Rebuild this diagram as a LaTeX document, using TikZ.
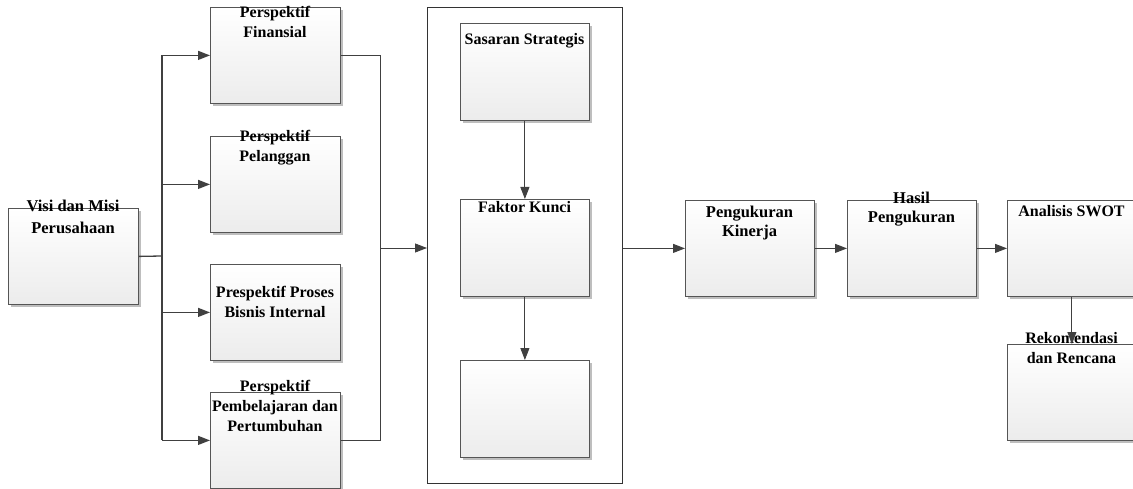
\documentclass[tikz,border=0pt]{standalone}
\usepackage{fontspec}
\setmainfont{Liberation Serif}
\usetikzlibrary{arrows.meta,shadows}
\definecolor{lnc}{HTML}{404040}
\definecolor{bdc}{HTML}{555555}
\definecolor{boxbot}{HTML}{ECECEC}
\definecolor{shd}{HTML}{BEBEBE}
\begin{document}
\begin{tikzpicture}[x=1pt,y=-1pt,
  box/.style={draw=bdc, line width=0.8pt, top color=white, bottom color=boxbot,
    drop shadow={shadow xshift=3pt,shadow yshift=-3pt,fill=shd,opacity=1},
    anchor=north west, inner sep=0pt},
  frame/.style={draw=black!80, line width=0.8pt, fill=white, anchor=north west, inner sep=0pt},
  lbl/.style={anchor=base, inner sep=0pt, align=center, font=\bfseries\fontsize{16}{20}\selectfont},
  thick line/.style={draw=lnc, line width=1.3pt},
  thin line/.style={draw=lnc, line width=0.9pt},
  arr/.style={thin line, -{Triangle[length=12pt,width=9pt]}},
  arrb/.style={thick line, -{Triangle[length=12pt,width=9pt]}}]
\useasboundingbox (0,0) rectangle (1133,489);
% frame
\node[frame, minimum width=195pt, minimum height=476pt] (big) at (427,7) {};
% boxes
\node[box, minimum width=130pt, minimum height=96pt] (visi) at (8,208) {};
\node[box, minimum width=130pt, minimum height=96pt] (p1) at (210,7) {};
\node[box, minimum width=130pt, minimum height=96pt] (p2) at (210,136) {};
\node[box, minimum width=130pt, minimum height=96pt] (p3) at (210,264) {};
\node[box, minimum width=130pt, minimum height=96pt] (p4) at (210,392) {};
\node[box, minimum width=129pt, minimum height=97pt] (ss) at (460,23) {};
\node[box, minimum width=129pt, minimum height=97pt] (fk) at (460,199) {};
\node[box, minimum width=129pt, minimum height=97pt] (f3) at (460,360) {};
\node[box, minimum width=129pt, minimum height=96pt] (pk) at (685,200) {};
\node[box, minimum width=129pt, minimum height=96pt] (hp) at (847,200) {};
\node[box, minimum width=129pt, minimum height=96pt] (sw) at (1007,200) {};
\node[box, minimum width=129pt, minimum height=96pt] (rk) at (1007,344) {};
% labels (anchor = baseline of the last line)
\node[lbl, font=\bfseries\fontsize{16.5}{22}\selectfont] (tvisi) at (73,234) {Visi dan Misi\\Perusahaan};
\node[lbl] (tp1) at (275,38) {Perspektif\\Finansial};
\node[lbl] (tp2) at (275,162) {Perspektif\\Pelanggan};
\node[lbl] (tp3) at (275,317) {Prespektif Proses\\Bisnis Internal};
\node[lbl] (tp4) at (275,431) {Perspektif\\Pembelajaran dan\\Pertumbuhan};
\node[lbl] (tss) at (524.5,45) {Sasaran Strategis};
\node[lbl] (tfk) at (524.5,213) {Faktor Kunci};
\node[lbl, font=\bfseries\fontsize{16.5}{20}\selectfont] (tpk) at (749.5,237) {Pengukuran\\Kinerja};
\node[lbl, font=\bfseries\fontsize{16.5}{19}\selectfont] (thp) at (911.5,223) {Hasil\\Pengukuran};
\node[lbl] (tsw) at (1071.5,217) {Analisis SWOT};
\node[lbl] (trk) at (1071.5,363) {Rekomendasi\\dan Rencana};
% connectors left
\coordinate (j1) at (162,256);
\draw[thick line] (visi.east) -- (j1);
\draw[thick line] (j1 |- p1.west) -- (j1 |- p4.west);
\draw[arrb] (j1 |- p1.west) -- (p1.west);
\draw[arrb] (j1 |- p2.west) -- (p2.west);
\draw[arrb] (j1 |- p3.west) -- (p3.west);
\draw[arrb] (j1 |- p4.west) -- (p4.west);
% connectors right of perspectives
\coordinate (j2) at (380,248);
\draw[thin line] (p1.east) -| (j2);
\draw[thin line] (p4.east) -| (j2);
\draw[arr] (j2) -- (j2 -| big.west);
% inside frame
\draw[arr] (ss.south) -- (fk.north);
\draw[arr] (fk.south) -- (f3.north);
% right chain
\draw[arr] (pk.west -| big.east) -- (pk.west);
\draw[arr] (pk.east) -- (hp.west);
\draw[arr] (hp.east) -- (sw.west);
\draw[arr] (sw.south) -- (rk.north);
\end{tikzpicture}
\end{document}
